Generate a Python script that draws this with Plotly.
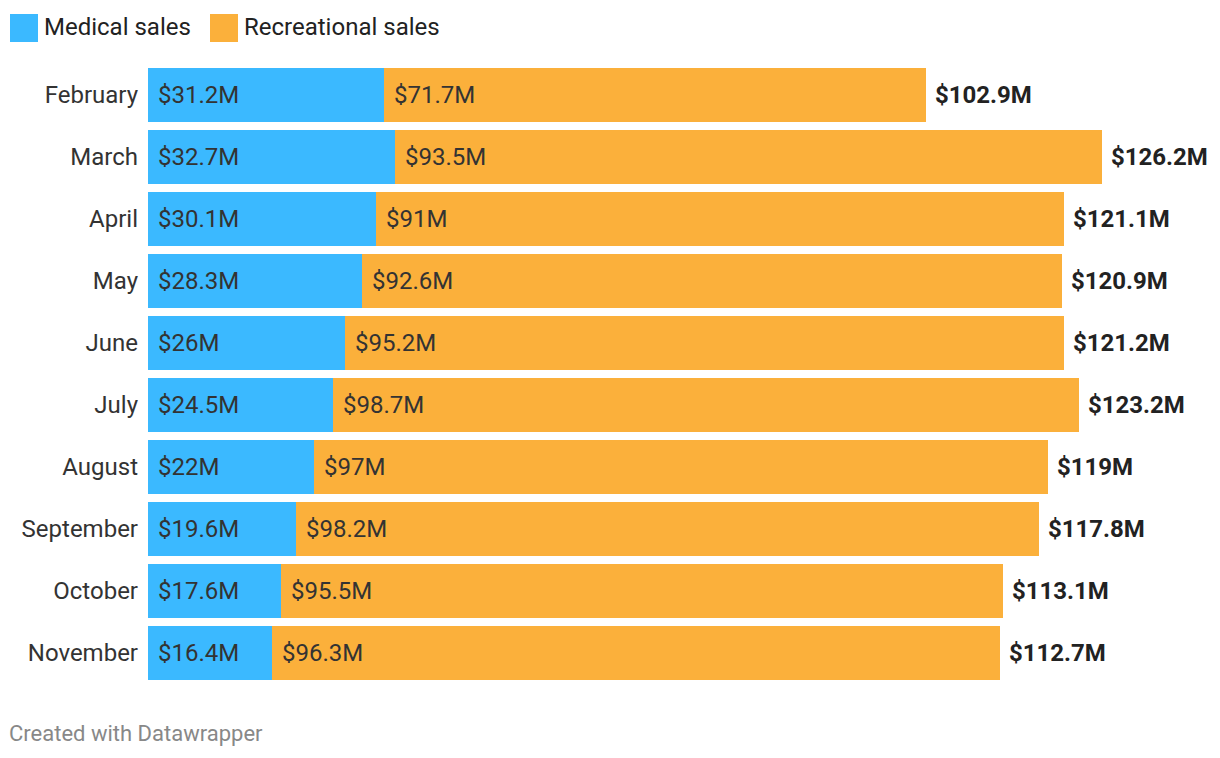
import plotly.graph_objects as go

months = ["February", "March", "April", "May", "June", "July", "August",
          "September", "October", "November"]
medical = [31.2, 32.7, 30.1, 28.3, 26, 24.5, 22, 19.6, 17.6, 16.4]
recreational = [71.7, 93.5, 91, 92.6, 95.2, 98.7, 97, 98.2, 95.5, 96.3]
totals = [round(m + r, 1) for m, r in zip(medical, recreational)]

BLUE = "#3bb9ff"
ORANGE = "#fbb03b"
FONT = "Roboto"
FS = 24

def fmt(v):
    s = f"{v:.1f}".rstrip("0").rstrip(".")
    return f"${s}M"

fig = go.Figure()
fig.add_trace(go.Bar(y=months, x=medical, orientation="h", marker_color=BLUE,
                     marker_line_width=0, name="Medical sales", hoverinfo="skip"))
fig.add_trace(go.Bar(y=months, x=recreational, orientation="h", marker_color=ORANGE,
                     marker_line_width=0, name="Recreational sales", hoverinfo="skip"))

ann = []
for mo, m, r, t in zip(months, medical, recreational, totals):
    ann.append(dict(x=0, y=mo, xref="x", yref="y", text=fmt(m), showarrow=False,
                    xanchor="left", xshift=8, font=dict(family=FONT, size=FS, color="#333")))
    ann.append(dict(x=m, y=mo, xref="x", yref="y", text=fmt(r), showarrow=False,
                    xanchor="left", xshift=8, font=dict(family=FONT, size=FS, color="#333")))
    ann.append(dict(x=t, y=mo, xref="x", yref="y", text=f"<b>{fmt(t)}</b>", showarrow=False,
                    xanchor="left", xshift=7, font=dict(family=FONT, size=FS, color="#222")))

# custom legend and footer (pixel coords converted below)
ann.append(dict(x=42, y=27, xref="paper", yref="paper", text="Medical sales", showarrow=False,
                xanchor="left", yanchor="middle", font=dict(family=FONT, size=FS, color="#222")))
ann.append(dict(x=242, y=27, xref="paper", yref="paper", text="Recreational sales", showarrow=False,
                xanchor="left", yanchor="middle", font=dict(family=FONT, size=FS, color="#222")))
ann.append(dict(x=7, y=733, xref="paper", yref="paper", text="Created with Datawrapper",
                showarrow=False, xanchor="left", yanchor="middle",
                font=dict(family=FONT, size=22, color="#888")))

W, H = 1220, 758
L, R, T, B = 148, 0, 64, 74
pw, ph = W - L - R, H - T - B
for a in ann[-3:]:
    a["x"] = (a["x"] - L) / pw
    a["y"] = 1 - (a["y"] - T) / ph

shapes = []
for x0, col in [(10, BLUE), (210, ORANGE)]:
    shapes.append(dict(type="rect", xref="paper", yref="paper",
                       x0=(x0 - L) / pw, x1=(x0 + 28 - L) / pw,
                       y0=1 - (42 - T) / ph, y1=1 - (14 - T) / ph,
                       fillcolor=col, line_width=0))

fig.update_layout(
    width=W, height=H, barmode="stack", bargap=8 / 62,
    margin=dict(l=L, r=R, t=T, b=B),
    paper_bgcolor="white", plot_bgcolor="white",
    showlegend=False,
    font=dict(family=FONT, size=FS, color="#333"),
    xaxis=dict(range=[0, pw / (778 / 102.9)], visible=False, fixedrange=True),
    yaxis=dict(autorange="reversed", showgrid=False, zeroline=False, showline=False,
               ticks="", ticklabelstandoff=9,
               tickfont=dict(family=FONT, size=FS, color="#333"), fixedrange=True),
    annotations=ann, shapes=shapes,
)

fig.write_html("out.html", config={"displayModeBar": False})
